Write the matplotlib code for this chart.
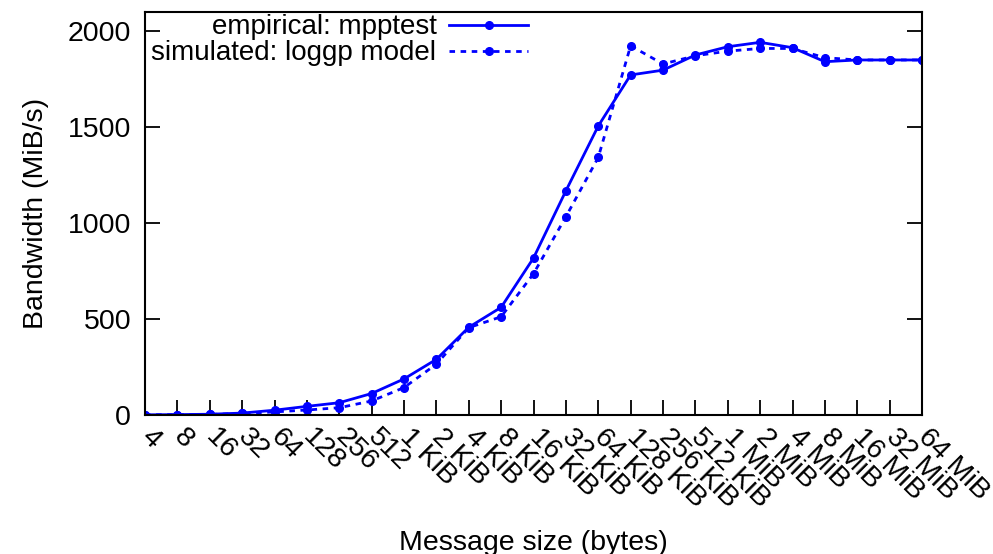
import numpy as np
import matplotlib
matplotlib.use("Agg")
import matplotlib.pyplot as plt
import matplotlib.transforms as mtransforms

plt.rcParams['font.family'] = ['Liberation Sans', 'DejaVu Sans']

# message sizes (x categories)
sizes = ['4', '8', '16', '32', '64', '128', '256', '512',
         '1 KiB', '2 KiB', '4 KiB', '8 KiB', '16 KiB', '32 KiB', '64 KiB',
         '128 KiB', '256 KiB', '512 KiB',
         '1 MiB', '2 MiB', '4 MiB', '8 MiB', '16 MiB', '32 MiB', '64 MiB']

# bandwidth in MiB/s
empirical = [1, 2, 4, 10, 25, 45, 64, 112, 188, 290, 457, 561, 818, 1168, 1506,
             1772, 1797, 1876, 1919, 1942, 1914, 1841, 1850, 1850, 1850]
simulated = [1, 2, 3, 8, 16, 26, 38, 73, 143, 265, 455, 512, 736, 1033, 1342,
             1924, 1829, 1872, 1896, 1910, 1910, 1862, 1850, 1850, 1850]

blue = '#0000ff'
x = np.arange(len(sizes))

fig, ax = plt.subplots(figsize=(9.93, 5.54), dpi=100)
fig.subplots_adjust(left=145/993, right=922/993, top=1-12/554, bottom=1-415/554)

ax.plot(x, empirical, color=blue, lw=2, marker='o', ms=5.5, label='empirical: mpptest')
ax.plot(x, simulated, color=blue, lw=2, ls=(0, (2, 2)), marker='o', ms=5.5,
        label='simulated: loggp model')

ax.set_xlim(0, len(sizes) - 1)
ax.set_ylim(0, 2100)
ax.set_yticks([0, 500, 1000, 1500, 2000])
ax.set_xticks(x)
ax.set_xticklabels(sizes, rotation=-45, ha='left', va='center', rotation_mode='anchor')
offset = mtransforms.ScaledTranslation(8/100, 0, fig.dpi_scale_trans)
for lbl in ax.get_xticklabels():
    lbl.set_transform(lbl.get_transform() + offset)

ax.tick_params(axis='both', direction='in', length=11, width=1.3, labelsize=20.5)
ax.tick_params(axis='y', right=True, pad=10)
ax.tick_params(axis='x', pad=13)
for s in ax.spines.values():
    s.set_linewidth(1.5)

ax.set_xlabel('Message size (bytes)', fontsize=20.5)
ax.xaxis.set_label_coords(0.5, -0.285)
ax.set_ylabel('Bandwidth (MiB/s)', fontsize=20.5)
ax.yaxis.set_label_coords(-0.123, 0.5)

ax.legend(loc='upper left', bbox_to_anchor=(-0.006, 1.022), frameon=False, fontsize=20,
          markerfirst=False, handlelength=2.85, handletextpad=0.45, labelspacing=0.0,
          borderaxespad=0.0)

fig.savefig('out.png', dpi=100)
